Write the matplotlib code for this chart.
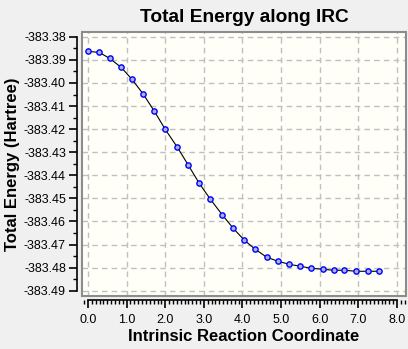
import numpy as np
import matplotlib.pyplot as plt
from matplotlib.patches import Rectangle
from matplotlib.ticker import MultipleLocator

plt.rcParams['font.family'] = ['Liberation Sans', 'DejaVu Sans']

# IRC points
irc = [0.00, 0.29, 0.56, 0.86, 1.14, 1.43, 1.72, 2.00, 2.31, 2.60, 2.88, 3.17, 3.48, 3.76,
       4.05, 4.33, 4.63, 4.92, 5.21, 5.50, 5.78, 6.08, 6.36, 6.64, 6.95, 7.24, 7.53]
energy = [-383.38632, -383.38675, -383.38935, -383.39325, -383.39844, -383.40481,
          -383.41229, -383.42009, -383.42775, -383.43567, -383.44346, -383.45039,
          -383.45719, -383.46294, -383.46814, -383.47203, -383.47550, -383.47723,
          -383.47853, -383.47940, -383.48026, -383.48070, -383.48113, -383.48113,
          -383.48156, -383.48156, -383.48156]
yticks = [-383.38 - 0.01 * i for i in range(12)]
xticks = [0.0, 1.0, 2.0, 3.0, 4.0, 5.0, 6.0, 7.0, 8.0]

fig = plt.figure(figsize=(4.08, 3.49), dpi=100, facecolor='#F0F0F0')
ax = fig.add_axes([0.201, 0.152, 0.794, 0.756])
ax.set_facecolor('#FFFFF7')

ax.plot(irc, energy, color='black', lw=0.8, zorder=3)
ax.plot(irc, energy, ls='none', marker='o', ms=3.8, mfc='#A8B4DC', mec='#0000FF',
        mew=1, zorder=4)

ax.set_xlim(-0.155, 8.233)
ax.set_ylim(-383.49225, -383.37797)

ax.set_xticks(xticks)
ax.set_xticklabels(['%.1f' % v for v in xticks])
ax.xaxis.set_minor_locator(MultipleLocator(0.1))
ax.set_yticks(yticks)
ax.set_yticklabels(['%.2f' % v for v in yticks])
ax.yaxis.set_minor_locator(MultipleLocator(0.005))

ax.grid(True, which='major', color='#C0C0C0', ls=(0, (4, 3)), lw=1)

for s in ['top', 'right']:
    ax.spines[s].set_visible(False)
ax.spines['left'].set_position(('outward', 3.6))
ax.spines['bottom'].set_position(('outward', 3.0))
ax.spines['left'].set_bounds(-383.49, -383.38)
ax.spines['bottom'].set_bounds(0, 8)
ax.spines['left'].set_linewidth(1.2)
ax.spines['bottom'].set_linewidth(1.2)

ax.tick_params(which='major', length=6, width=1.2, labelsize=9, pad=2)
ax.tick_params(which='minor', length=3, width=1)
ax.tick_params(axis='x', which='major', pad=4)

ax.add_patch(Rectangle((0, 0), 1, 1, transform=ax.transAxes, fill=False,
                       edgecolor='#8C8C8C', lw=1.5, clip_on=False, zorder=5))

ax.set_title('Total Energy along IRC', fontsize=13.8, fontweight='bold', pad=7)
ax.set_xlabel('Intrinsic Reaction Coordinate', fontsize=12, fontweight='bold', labelpad=2)
ax.set_ylabel('Total Energy (Hartree)', fontsize=12, fontweight='bold', labelpad=3)

fig.savefig('out.png', dpi=100, facecolor=fig.get_facecolor())
